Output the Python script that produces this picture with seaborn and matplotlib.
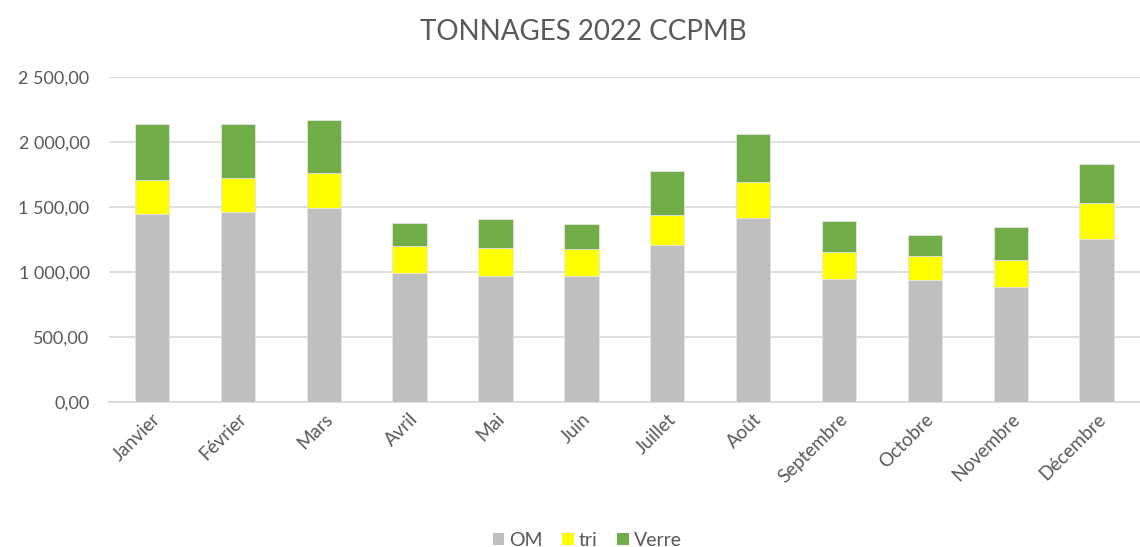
import pandas as pd
import numpy as np
import matplotlib
matplotlib.use("Agg")
import matplotlib.pyplot as plt
from matplotlib.ticker import FuncFormatter, MultipleLocator
from matplotlib.patches import Patch
import seaborn as sns

# data (tonnes)
mois = ['Janvier', 'Février', 'Mars', 'Avril', 'Mai', 'Juin', 'Juillet',
        'Août', 'Septembre', 'Octobre', 'Novembre', 'Décembre']
om = [1450, 1464, 1490, 996, 967, 969, 1210, 1415, 946, 938, 882, 1254]
tri = [257, 259, 269, 207, 218, 205, 226, 277, 208, 185, 208, 277]
verre = [436, 414, 409, 177, 225, 193, 338, 372, 241, 164, 254, 297]

colors = {'OM': '#BFBFBF', 'tri': '#FFFF00', 'Verre': '#70AD47'}
text_col = '#595959'

df = pd.DataFrame({'mois': mois, 'OM': om, 'tri': tri, 'Verre': verre})

sns.set_theme(style='white')
plt.rcParams['font.family'] = ['Lato', 'DejaVu Sans']

fig = plt.figure(figsize=(11.4, 5.47), dpi=100)
ax = fig.add_axes([0.0956, 0.265, 0.904, 0.594])

bottom = np.zeros(len(df))
for serie in ['OM', 'tri', 'Verre']:
    sns.barplot(data=df, x='mois', y=serie, color=colors[serie], width=0.4,
                bottom=bottom, ax=ax, edgecolor='#E4E4E4', linewidth=0.6,
                saturation=1, zorder=3)
    bottom = bottom + df[serie].values

ax.set_ylim(0, 2500)
ax.set_xlim(-0.5, len(mois) - 0.5)
ax.yaxis.set_major_locator(MultipleLocator(500))

def fmt(v, pos):
    s = f"{v:,.2f}"
    return s.replace(',', ' ').replace('.', ',')

ax.yaxis.set_major_formatter(FuncFormatter(fmt))
ax.grid(axis='y', color='#D9D9D9', linewidth=1.2, zorder=0)
ax.set_axisbelow(True)
for s in ['top', 'right', 'left']:
    ax.spines[s].set_visible(False)
ax.spines['bottom'].set_color('#D9D9D9')
ax.spines['bottom'].set_linewidth(1.2)

ax.set_xlabel('')
ax.set_ylabel('')
ax.tick_params(axis='both', length=0, labelsize=13, colors=text_col)
ax.tick_params(axis='x', labelsize=13.5, pad=6)
ax.tick_params(axis='y', pad=14)
plt.setp(ax.get_xticklabels(), rotation=45, ha='right', rotation_mode='anchor')

fig.suptitle('TONNAGES 2022 CCPMB', x=0.512, y=0.965, fontsize=20, color=text_col)

handles = [Patch(facecolor=colors[k], edgecolor='none', label=k) for k in colors]
fig.legend(handles=handles, loc='lower center', bbox_to_anchor=(0.515, -0.035),
           ncol=3, frameon=False, fontsize=14, labelcolor=text_col,
           handlelength=0.6, handleheight=0.6, handletextpad=0.25, columnspacing=1.0)

fig.savefig('out.png', dpi=100)
